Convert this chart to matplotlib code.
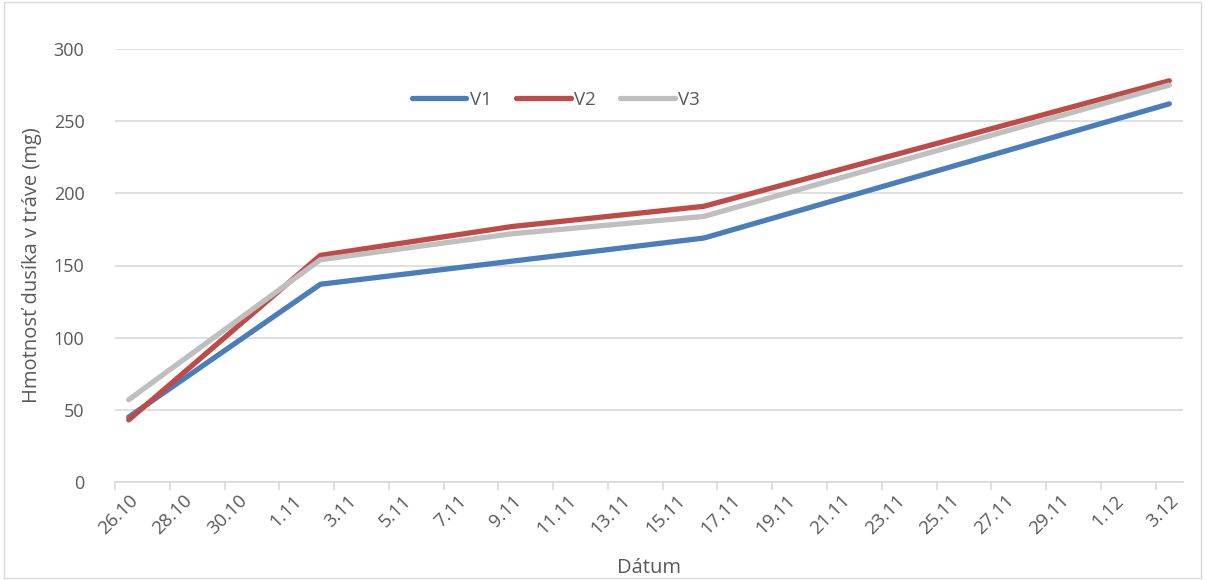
import matplotlib
matplotlib.use("Agg")
import matplotlib.pyplot as plt
import matplotlib.transforms as mtransforms
import numpy as np

plt.rcParams['font.family'] = ['Open Sans', 'DejaVu Sans']

# Data (days offset from 26.10)
days = [0, 7, 14, 21, 38]
v1 = [45, 137, 153, 169, 262]
v2 = [43, 157, 177, 191, 278]
v3 = [57, 154, 172, 184, 275]
tick_labels = ['26.10', '28.10', '30.10', '1.11', '3.11', '5.11', '7.11', '9.11',
               '11.11', '13.11', '15.11', '17.11', '19.11', '21.11', '23.11',
               '25.11', '27.11', '29.11', '1.12', '3.12']

W, H = 1205, 580
fig = plt.figure(figsize=(W/100, H/100), dpi=100)
ax = fig.add_axes([115/W, 1 - 482/H, (1183-115)/W, (482-49)/H])

ax.plot(days, v1, color='#4a7ebb', lw=3.8, label='V1', solid_capstyle='round', solid_joinstyle='round')
ax.plot(days, v2, color='#be4b48', lw=3.8, label='V2', solid_capstyle='round', solid_joinstyle='round')
ax.plot(days, v3, color='#bfbfbf', lw=3.8, label='V3', solid_capstyle='round', solid_joinstyle='round')

ax.set_xlim(-0.5, 38.5)
ax.set_ylim(0, 300)
ax.set_yticks(np.arange(0, 301, 50))
ax.yaxis.grid(True, color='#d9d9d9', lw=1.2)
ax.set_axisbelow(True)
for s in ['top', 'right', 'left']:
    ax.spines[s].set_visible(False)
ax.spines['bottom'].set_color('#d9d9d9')
ax.spines['bottom'].set_linewidth(1.2)

pos = np.arange(0, 39, 2)
ax.set_xticks(pos)
ax.set_xticklabels(tick_labels, rotation=45, ha='right', rotation_mode='anchor',
                   fontsize=13.5, color='#595959')
offset = mtransforms.ScaledTranslation(6/100, 0, fig.dpi_scale_trans)
for lbl in ax.get_xticklabels():
    lbl.set_transform(lbl.get_transform() + offset)
ax.set_xticks(np.arange(-0.5, 38, 2), minor=True)
ax.tick_params(axis='x', which='major', length=0, pad=7)
ax.tick_params(axis='x', which='minor', length=6, color='#d9d9d9', width=1.2)
ax.tick_params(axis='y', length=0, labelsize=13, labelcolor='#595959', pad=22)

ax.set_ylabel('Hmotnosť dusíka v tráve (mg)', fontsize=14.5, color='#595959', va='center')
ax.yaxis.set_label_coords((32 - 115) / (1183 - 115), 0.5)
ax.set_xlabel('Dátum', fontsize=14.5, color='#595959')
ax.xaxis.set_label_coords((649 - 115) / (1183 - 115), (482 - 568) / (482 - 49))
ax.xaxis.label.set_va('center')

leg = ax.legend(loc='center', bbox_to_anchor=((556 - 115) / 1068, (482 - 100) / 433), ncol=3,
                frameon=False, fontsize=13.5, handlelength=2.9, handletextpad=0.2,
                columnspacing=1.3)
for t in leg.get_texts():
    t.set_color('#595959')

border = plt.Rectangle((0.003, 0.003), 0.994, 0.994, transform=fig.transFigure,
                       fill=False, edgecolor='#d9d9d9', lw=1)
fig.patches.append(border)

fig.savefig('out.png', dpi=100)
